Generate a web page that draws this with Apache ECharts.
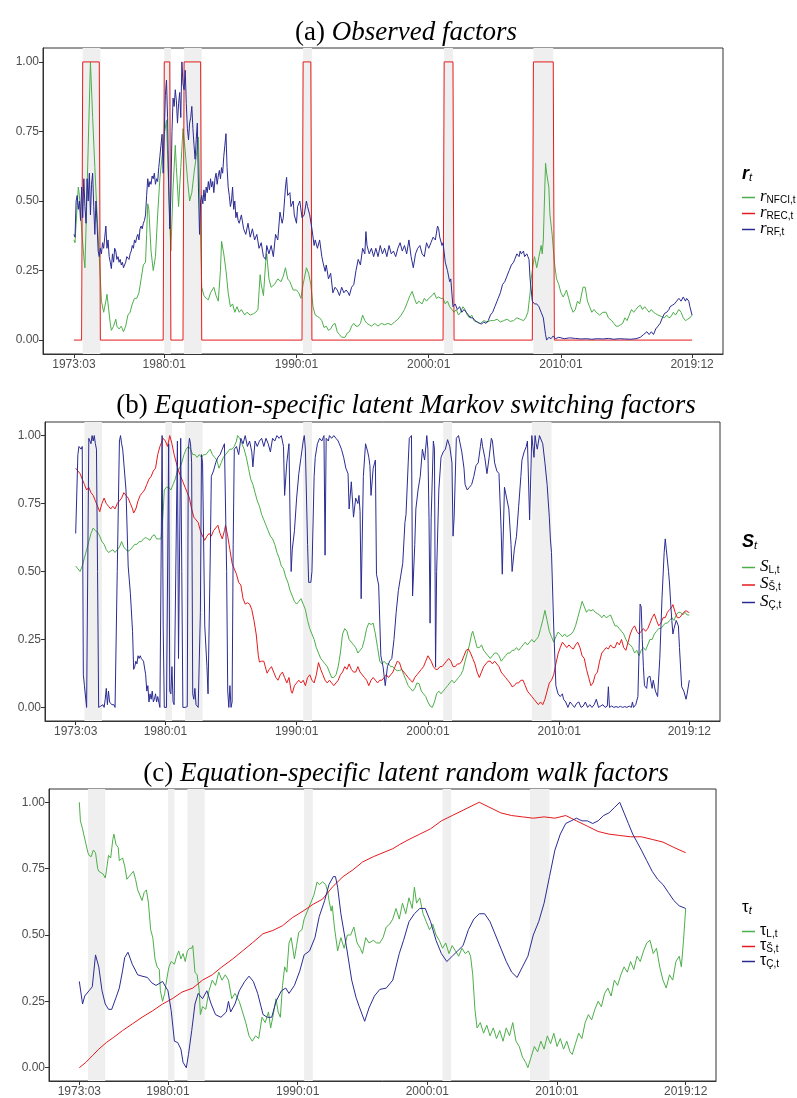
<!DOCTYPE html>
<html>
<head>
<meta charset="utf-8">
<script src="https://cdn.jsdelivr.net/npm/echarts@6/dist/echarts.min.js"></script>
<style>
html, body { margin: 0; padding: 0; background: #fff; }
#container { width: 797px; height: 1098px; }
</style>
</head>
<body>
<div id="container"></div>
<script>
// months counted from 1973:03 (= 0) to 2019:12 (= 561)
var tickMonths = [0, 82, 202, 322, 442, 561];
var tickLabels = ['1973:03', '1980:01', '1990:01', '2000:01', '2010:01', '2019:12'];
var yTicks = [0, 0.25, 0.5, 0.75, 1];
// NBER recessions, [start, end] in months
var recessions = [[8, 24], [82, 88], [100, 116], [208, 216], [336, 344], [417, 435]];

// (a) observed factors, [month, value]
var rNfci = [[0,0.36],[1,0.35],[2,0.42],[4,0.55],[5,0.52],[7,0.40],[9,0.30],[10,0.26],[11,0.40],[13,0.70],[15,1.00],[17,0.80],[19,0.62],[21,0.45],[23,0.30],[25,0.14],[27,0.10],[29,0.14],[30,0.165],[31,0.16],[33,0.06],[34,0.035],[36,0.05],[38,0.075],[39,0.05],[41,0.04],[43,0.05],[45,0.03],[47,0.05],[49,0.09],[51,0.10],[53,0.13],[55,0.15],[57,0.15],[59,0.17],[61,0.22],[63,0.27],[65,0.28],[66,0.38],[67,0.49],[68,0.47],[70,0.32],[72,0.25],[74,0.30],[76,0.45],[78,0.58],[80,0.66],[82,0.74],[84,0.79],[86,0.55],[88,0.32],[90,0.55],[92,0.70],[93,0.62],[95,0.48],[97,0.62],[99,0.76],[101,0.68],[103,0.58],[105,0.50],[107,0.53],[109,0.60],[111,0.66],[113,0.73],[114,0.55],[116,0.19],[118,0.16],[120,0.15],[122,0.145],[124,0.17],[127,0.19],[129,0.16],[131,0.14],[133,0.25],[134,0.355],[136,0.31],[138,0.25],[140,0.17],[142,0.12],[144,0.13],[146,0.10],[148,0.12],[150,0.10],[152,0.11],[155,0.09],[157,0.10],[160,0.09],[163,0.095],[165,0.10],[167,0.11],[169,0.235],[170,0.20],[172,0.16],[174,0.28],[175,0.31],[177,0.22],[179,0.19],[182,0.20],[185,0.22],[188,0.21],[190,0.23],[192,0.26],[194,0.22],[196,0.21],[199,0.18],[202,0.18],[204,0.17],[206,0.15],[208,0.20],[211,0.26],[213,0.24],[215,0.20],[217,0.12],[219,0.09],[221,0.085],[223,0.08],[225,0.07],[227,0.045],[229,0.05],[231,0.035],[233,0.04],[235,0.055],[237,0.06],[239,0.03],[241,0.02],[243,0.01],[244,0.004],[246,0.01],[248,0.025],[250,0.03],[252,0.05],[254,0.06],[256,0.05],[258,0.05],[260,0.06],[262,0.09],[264,0.07],[266,0.06],[268,0.055],[270,0.05],[273,0.06],[276,0.05],[279,0.06],[282,0.055],[285,0.06],[288,0.055],[291,0.065],[294,0.075],[297,0.09],[300,0.11],[303,0.14],[305,0.16],[307,0.175],[309,0.15],[311,0.13],[313,0.14],[316,0.13],[318,0.15],[320,0.14],[322,0.15],[325,0.16],[327,0.17],[329,0.15],[331,0.155],[333,0.15],[335,0.15],[337,0.13],[339,0.14],[341,0.12],[343,0.11],[345,0.10],[347,0.11],[349,0.09],[351,0.10],[353,0.12],[355,0.11],[357,0.09],[359,0.08],[361,0.09],[363,0.07],[366,0.065],[369,0.06],[372,0.07],[375,0.065],[378,0.07],[381,0.07],[384,0.075],[387,0.065],[390,0.07],[393,0.075],[396,0.067],[399,0.07],[402,0.08],[405,0.075],[408,0.07],[410,0.08],[412,0.10],[414,0.17],[415,0.22],[417,0.28],[418,0.30],[420,0.26],[422,0.30],[424,0.34],[425,0.31],[426,0.36],[427,0.50],[428,0.636],[429,0.60],[431,0.55],[432,0.45],[434,0.38],[436,0.28],[438,0.22],[440,0.20],[442,0.17],[444,0.155],[446,0.17],[447,0.18],[449,0.15],[451,0.12],[453,0.10],[455,0.11],[457,0.14],[459,0.13],[461,0.17],[462,0.19],[464,0.19],[466,0.14],[468,0.12],[470,0.10],[472,0.11],[474,0.10],[477,0.09],[480,0.10],[483,0.10],[485,0.08],[488,0.07],[490,0.06],[492,0.05],[494,0.05],[496,0.055],[498,0.06],[500,0.08],[502,0.07],[504,0.09],[506,0.11],[508,0.10],[510,0.11],[512,0.12],[514,0.125],[516,0.11],[518,0.12],[520,0.11],[522,0.10],[524,0.11],[526,0.10],[528,0.095],[530,0.09],[533,0.085],[536,0.08],[538,0.09],[540,0.08],[542,0.085],[544,0.10],[546,0.09],[549,0.11],[551,0.10],[553,0.08],[555,0.07],[557,0.075],[559,0.08],[561,0.09]];
var rRec = [[0,0],[7,0],[8,1],[23,1],[24,0],[81,0],[82,1],[87,1],[88,0],[99,0],[100,1],[115,1],[116,0],[207,0],[208,1],[215,1],[216,0],[335,0],[336,1],[344,1],[345,0],[416,0],[417,1],[435,1],[436,0],[561,0]];
var rRf = [[0,0.38],[1,0.37],[2,0.50],[3,0.52],[4,0.47],[5,0.50],[6,0.43],[7,0.55],[8,0.44],[9,0.58],[10,0.48],[11,0.42],[12,0.58],[13,0.50],[14,0.60],[15,0.45],[16,0.56],[17,0.60],[18,0.48],[19,0.38],[20,0.50],[21,0.42],[22,0.32],[23,0.30],[24,0.33],[25,0.31],[26,0.35],[27,0.33],[28,0.37],[29,0.41],[30,0.33],[31,0.36],[32,0.30],[33,0.28],[34,0.257],[35,0.31],[36,0.28],[37,0.33],[38,0.32],[39,0.29],[40,0.30],[41,0.28],[42,0.29],[43,0.27],[44,0.28],[45,0.26],[46,0.26],[47,0.28],[48,0.30],[49,0.30],[50,0.29],[51,0.31],[52,0.32],[53,0.34],[54,0.33],[55,0.36],[56,0.35],[57,0.37],[58,0.38],[59,0.36],[60,0.40],[61,0.41],[62,0.40],[63,0.42],[64,0.43],[65,0.45],[66,0.52],[67,0.58],[68,0.55],[69,0.57],[70,0.56],[71,0.59],[72,0.58],[73,0.60],[74,0.56],[75,0.58],[76,0.57],[77,0.62],[78,0.66],[79,0.70],[80,0.74],[81,0.60],[82,0.75],[83,0.88],[84,0.935],[85,0.80],[86,0.55],[87,0.40],[88,0.52],[89,0.75],[90,0.87],[91,0.84],[92,0.90],[93,0.86],[94,0.78],[95,0.85],[96,0.89],[97,0.80],[98,1.0],[99,0.92],[100,0.90],[101,0.97],[102,0.85],[103,0.76],[104,0.72],[105,0.78],[106,0.80],[107,0.84],[108,0.76],[109,0.70],[110,0.65],[111,0.72],[112,0.78],[113,0.55],[114,0.38],[115,0.50],[116,0.52],[117,0.49],[118,0.54],[119,0.50],[120,0.55],[121,0.53],[122,0.57],[123,0.54],[124,0.58],[125,0.55],[126,0.57],[127,0.53],[128,0.58],[129,0.60],[130,0.56],[131,0.59],[132,0.61],[133,0.58],[134,0.62],[135,0.60],[136,0.66],[137,0.70],[138,0.742],[139,0.62],[140,0.55],[141,0.52],[142,0.48],[143,0.50],[144,0.55],[145,0.47],[146,0.50],[147,0.44],[148,0.46],[149,0.43],[150,0.42],[152,0.45],[154,0.40],[156,0.38],[158,0.42],[160,0.37],[162,0.40],[164,0.36],[166,0.38],[168,0.33],[170,0.35],[172,0.30],[174,0.29],[175,0.34],[177,0.31],[179,0.34],[181,0.30],[183,0.38],[185,0.36],[187,0.46],[189,0.42],[190,0.44],[192,0.55],[193,0.585],[194,0.52],[196,0.53],[197,0.48],[199,0.50],[200,0.45],[202,0.42],[203,0.48],[205,0.50],[207,0.44],[209,0.45],[211,0.50],[212,0.48],[214,0.45],[216,0.40],[218,0.34],[219,0.36],[221,0.33],[223,0.36],[225,0.30],[226,0.28],[228,0.247],[229,0.27],[231,0.22],[233,0.24],[235,0.17],[237,0.19],[239,0.18],[241,0.16],[243,0.19],[245,0.17],[247,0.18],[249,0.17],[250,0.16],[252,0.19],[254,0.20],[256,0.25],[258,0.29],[260,0.27],[262,0.33],[264,0.31],[265,0.39],[266,0.34],[268,0.31],[270,0.33],[272,0.30],[274,0.33],[276,0.30],[278,0.34],[280,0.31],[282,0.33],[284,0.30],[286,0.34],[288,0.31],[290,0.32],[292,0.30],[294,0.33],[296,0.35],[298,0.32],[300,0.34],[302,0.31],[304,0.36],[306,0.30],[308,0.26],[310,0.31],[312,0.33],[314,0.34],[316,0.31],[318,0.30],[320,0.35],[322,0.33],[324,0.35],[326,0.37],[328,0.36],[330,0.41],[331,0.40],[332,0.37],[334,0.34],[335,0.35],[337,0.28],[339,0.25],[341,0.21],[342,0.22],[344,0.12],[346,0.13],[348,0.11],[350,0.12],[352,0.10],[354,0.11],[356,0.10],[358,0.09],[360,0.08],[362,0.08],[364,0.07],[366,0.065],[368,0.06],[370,0.058],[372,0.065],[374,0.06],[376,0.07],[378,0.09],[380,0.10],[382,0.12],[384,0.14],[385,0.15],[387,0.17],[389,0.20],[391,0.21],[393,0.23],[395,0.25],[397,0.27],[399,0.28],[400,0.29],[402,0.31],[404,0.30],[405,0.32],[406,0.31],[408,0.32],[409,0.30],[411,0.31],[412,0.30],[413,0.29],[414,0.22],[415,0.18],[416,0.14],[418,0.13],[420,0.13],[422,0.12],[424,0.10],[426,0.08],[428,0.02],[429,0.0],[431,0.01],[433,0.005],[435,0.015],[437,0.005],[440,0.01],[445,0.005],[450,0.008],[455,0.006],[460,0.004],[465,0.005],[470,0.003],[475,0.005],[480,0.004],[485,0.006],[490,0.003],[495,0.005],[500,0.004],[505,0.003],[510,0.005],[514,0.01],[517,0.02],[520,0.03],[522,0.02],[524,0.03],[526,0.02],[528,0.04],[530,0.05],[532,0.06],[534,0.08],[536,0.096],[538,0.10],[540,0.11],[541,0.12],[543,0.125],[545,0.13],[547,0.14],[549,0.15],[551,0.14],[553,0.155],[555,0.14],[556,0.15],[558,0.14],[559,0.12],[561,0.09]];

// (b) latent Markov switching factors
var sL = [[0,0.52],[2,0.51],[4,0.50],[6,0.52],[8,0.55],[10,0.58],[12,0.61],[14,0.64],[16,0.66],[18,0.65],[20,0.645],[22,0.63],[24,0.61],[26,0.60],[28,0.58],[30,0.57],[32,0.575],[34,0.58],[36,0.57],[38,0.58],[40,0.59],[42,0.61],[44,0.59],[46,0.58],[48,0.575],[50,0.58],[52,0.59],[54,0.60],[56,0.60],[58,0.61],[60,0.61],[62,0.62],[64,0.625],[66,0.62],[68,0.615],[70,0.63],[72,0.635],[74,0.62],[76,0.62],[78,0.62],[79,0.66],[80,0.72],[81,0.80],[83,0.81],[85,0.81],[87,0.80],[89,0.82],[91,0.84],[93,0.87],[95,0.88],[97,0.90],[99,0.93],[101,0.95],[103,0.96],[105,0.95],[107,0.93],[109,0.93],[111,0.92],[113,0.93],[115,0.92],[117,0.93],[119,0.93],[121,0.94],[123,0.95],[125,0.93],[127,0.92],[129,0.91],[131,0.88],[133,0.90],[135,0.92],[137,0.93],[139,0.94],[141,0.95],[143,0.95],[145,0.96],[147,0.98],[148,1.0],[150,0.99],[152,0.97],[154,0.95],[156,0.92],[158,0.88],[160,0.84],[162,0.82],[164,0.79],[166,0.76],[168,0.74],[170,0.71],[172,0.69],[174,0.67],[176,0.65],[178,0.63],[180,0.62],[182,0.60],[184,0.57],[186,0.55],[188,0.52],[190,0.51],[192,0.48],[194,0.46],[196,0.43],[198,0.41],[200,0.39],[202,0.38],[204,0.39],[206,0.40],[208,0.38],[210,0.36],[212,0.32],[214,0.29],[216,0.27],[218,0.25],[220,0.22],[222,0.20],[224,0.18],[226,0.17],[228,0.16],[230,0.15],[232,0.13],[234,0.11],[236,0.11],[238,0.12],[240,0.15],[242,0.20],[244,0.27],[246,0.29],[248,0.28],[250,0.25],[252,0.24],[254,0.23],[256,0.22],[258,0.20],[260,0.21],[262,0.22],[264,0.25],[266,0.29],[268,0.31],[270,0.305],[272,0.31],[274,0.27],[276,0.22],[278,0.17],[280,0.16],[282,0.17],[284,0.16],[286,0.16],[288,0.15],[290,0.15],[292,0.14],[294,0.135],[296,0.136],[298,0.14],[300,0.12],[302,0.10],[304,0.08],[306,0.07],[308,0.06],[310,0.07],[312,0.09],[314,0.087],[316,0.06],[318,0.05],[320,0.04],[322,0.02],[324,0.005],[326,0.0],[328,0.02],[330,0.05],[332,0.06],[334,0.05],[336,0.06],[338,0.07],[340,0.08],[342,0.09],[344,0.10],[346,0.09],[348,0.10],[350,0.11],[352,0.12],[354,0.136],[356,0.17],[358,0.20],[360,0.23],[362,0.27],[363,0.28],[365,0.25],[367,0.22],[369,0.22],[371,0.23],[373,0.21],[375,0.20],[377,0.19],[379,0.18],[381,0.19],[383,0.20],[385,0.20],[387,0.19],[389,0.17],[391,0.18],[393,0.19],[395,0.20],[397,0.20],[399,0.21],[401,0.21],[403,0.22],[405,0.21],[407,0.22],[409,0.23],[411,0.24],[413,0.23],[415,0.24],[417,0.25],[419,0.24],[421,0.25],[423,0.26],[425,0.29],[427,0.32],[429,0.357],[431,0.32],[433,0.28],[435,0.26],[437,0.24],[439,0.26],[441,0.277],[443,0.27],[445,0.26],[447,0.27],[449,0.26],[451,0.265],[453,0.27],[455,0.28],[457,0.30],[459,0.33],[461,0.36],[463,0.39],[465,0.37],[467,0.35],[469,0.36],[471,0.355],[473,0.36],[475,0.35],[477,0.345],[479,0.34],[481,0.33],[483,0.34],[485,0.33],[487,0.335],[489,0.34],[491,0.32],[493,0.30],[495,0.30],[497,0.29],[499,0.28],[501,0.27],[503,0.25],[505,0.235],[507,0.23],[509,0.22],[511,0.20],[513,0.21],[515,0.19],[517,0.21],[519,0.22],[521,0.21],[523,0.23],[525,0.25],[527,0.25],[529,0.27],[531,0.28],[533,0.29],[535,0.29],[537,0.30],[539,0.31],[541,0.31],[543,0.32],[545,0.33],[547,0.32],[549,0.34],[551,0.35],[553,0.35],[555,0.34],[557,0.35],[559,0.34],[561,0.34]];
var sS = [[0,0.88],[2,0.87],[4,0.86],[6,0.84],[8,0.82],[10,0.80],[12,0.81],[14,0.79],[16,0.78],[18,0.76],[20,0.74],[22,0.72],[24,0.75],[26,0.77],[28,0.75],[30,0.74],[32,0.73],[34,0.74],[36,0.73],[38,0.75],[40,0.76],[42,0.77],[44,0.79],[46,0.78],[48,0.77],[50,0.75],[52,0.73],[53,0.715],[55,0.73],[57,0.76],[59,0.78],[61,0.79],[63,0.80],[65,0.82],[67,0.84],[69,0.85],[71,0.87],[73,0.88],[75,0.93],[77,0.96],[79,0.98],[80,0.99],[82,0.98],[84,0.96],[86,1.0],[88,0.97],[90,0.93],[92,0.90],[94,0.87],[96,0.85],[98,0.83],[100,0.81],[102,0.79],[104,0.77],[106,0.73],[108,0.70],[110,0.69],[112,0.68],[114,0.65],[116,0.63],[118,0.615],[120,0.63],[122,0.64],[124,0.63],[126,0.65],[128,0.66],[130,0.67],[132,0.64],[134,0.62],[136,0.65],[137,0.67],[139,0.63],[141,0.58],[143,0.53],[145,0.51],[147,0.49],[149,0.46],[151,0.45],[153,0.40],[155,0.38],[157,0.385],[159,0.38],[161,0.36],[163,0.32],[165,0.27],[167,0.19],[168,0.167],[170,0.17],[172,0.17],[174,0.14],[175,0.126],[177,0.14],[179,0.15],[181,0.13],[183,0.11],[185,0.10],[187,0.12],[189,0.13],[191,0.11],[193,0.09],[195,0.11],[197,0.06],[198,0.052],[200,0.08],[202,0.09],[204,0.10],[206,0.09],[208,0.10],[210,0.08],[212,0.11],[214,0.12],[216,0.10],[218,0.09],[220,0.12],[222,0.165],[224,0.14],[226,0.12],[228,0.10],[230,0.09],[232,0.10],[234,0.09],[236,0.08],[238,0.09],[240,0.10],[242,0.12],[244,0.13],[246,0.15],[248,0.14],[250,0.16],[252,0.14],[254,0.13],[256,0.13],[258,0.15],[260,0.13],[262,0.12],[264,0.11],[266,0.10],[268,0.08],[270,0.10],[272,0.11],[274,0.10],[276,0.09],[278,0.10],[280,0.10],[282,0.11],[284,0.12],[286,0.11],[288,0.12],[290,0.13],[292,0.15],[294,0.17],[296,0.165],[298,0.14],[300,0.13],[302,0.12],[304,0.11],[306,0.10],[308,0.093],[310,0.11],[312,0.12],[314,0.13],[316,0.14],[318,0.15],[320,0.17],[322,0.19],[323,0.197],[325,0.17],[327,0.15],[329,0.14],[331,0.14],[333,0.15],[335,0.15],[337,0.16],[339,0.17],[341,0.18],[343,0.17],[345,0.15],[347,0.15],[349,0.16],[351,0.16],[353,0.17],[355,0.19],[357,0.21],[359,0.215],[361,0.20],[363,0.18],[365,0.16],[367,0.13],[369,0.11],[371,0.13],[373,0.15],[375,0.16],[377,0.17],[379,0.17],[381,0.16],[383,0.17],[385,0.16],[387,0.15],[389,0.13],[391,0.12],[393,0.11],[395,0.10],[397,0.09],[399,0.076],[401,0.08],[403,0.09],[405,0.09],[407,0.10],[409,0.10],[411,0.08],[413,0.06],[415,0.05],[417,0.04],[419,0.03],[421,0.02],[423,0.01],[425,0.02],[427,0.01],[429,0.03],[431,0.06],[433,0.09],[435,0.10],[437,0.12],[439,0.16],[441,0.197],[443,0.22],[445,0.24],[447,0.23],[449,0.22],[451,0.23],[453,0.22],[455,0.215],[457,0.23],[459,0.24],[461,0.22],[463,0.19],[465,0.18],[467,0.14],[469,0.11],[471,0.08],[473,0.09],[475,0.12],[477,0.13],[479,0.17],[481,0.20],[483,0.21],[485,0.22],[487,0.215],[489,0.23],[491,0.22],[493,0.22],[495,0.24],[497,0.23],[499,0.25],[501,0.22],[503,0.21],[505,0.24],[507,0.27],[509,0.29],[511,0.30],[513,0.28],[515,0.27],[517,0.28],[519,0.29],[521,0.28],[523,0.29],[525,0.31],[527,0.33],[529,0.344],[531,0.32],[533,0.30],[535,0.31],[537,0.33],[539,0.33],[541,0.35],[543,0.36],[545,0.37],[546,0.378],[548,0.35],[550,0.33],[552,0.33],[554,0.34],[556,0.35],[558,0.356],[560,0.35],[561,0.35]];
var sC = [[0,0.64],[2,0.93],[3,0.96],[5,0.95],[6,0.96],[7,0.12],[8,0.08],[9,0.08],[10,0.0],[12,0.99],[14,0.97],[15,1.0],[16,0.98],[17,1.0],[18,0.97],[19,0.95],[20,0.5],[21,0.0],[23,0.005],[25,0.01],[26,0.0],[27,0.03],[28,0.07],[29,0.01],[30,0.06],[31,0.02],[33,0.01],[35,0.01],[36,0.0],[38,0.5],[40,0.98],[41,1.0],[42,0.97],[43,0.95],[44,0.95],[46,0.80],[48,0.52],[50,0.42],[52,0.28],[53,0.14],[54,0.15],[55,0.17],[56,0.16],[57,0.19],[58,0.18],[59,0.19],[60,0.18],[62,0.17],[64,0.12],[65,0.06],[66,0.08],[67,0.02],[68,0.05],[69,0.03],[70,0.06],[71,0.02],[72,0.03],[73,0.05],[74,0.02],[75,0.04],[76,0.02],[77,0.0],[78,0.0],[79,1.0],[80,0.3],[81,0.0],[83,0.0],[84,0.005],[85,0.97],[86,0.06],[87,0.05],[88,0.15],[89,0.02],[90,0.01],[91,0.01],[93,0.98],[94,0.18],[96,0.99],[97,0.5],[98,0.0],[100,0.0],[102,0.003],[103,0.95],[104,0.99],[105,0.97],[106,0.9],[107,0.05],[108,0.03],[109,0.07],[110,0.01],[112,0.0],[114,0.35],[115,0.93],[116,0.9],[118,0.3],[120,0.15],[121,0.05],[123,0.55],[124,0.85],[126,0.87],[128,0.90],[130,0.92],[132,0.93],[134,0.95],[136,0.97],[137,0.97],[138,0.5],[139,0.06],[140,0.0],[141,0.08],[142,0.0],[143,0.02],[144,0.6],[145,0.95],[147,0.96],[149,0.93],[151,0.99],[153,0.97],[155,1.0],[157,0.96],[159,0.98],[161,0.94],[162,0.885],[164,0.98],[166,0.96],[168,0.98],[170,0.99],[172,0.96],[174,0.99],[176,0.97],[178,0.94],[180,0.99],[182,0.98],[184,1.0],[186,0.99],[188,1.0],[190,0.96],[191,0.78],[193,0.9],[195,0.97],[196,0.7],[197,0.5],[198,0.58],[200,0.65],[202,0.77],[204,0.86],[206,0.92],[208,0.98],[209,1.0],[210,0.95],[212,0.6],[213,0.46],[215,0.46],[216,0.5],[218,0.85],[219,0.92],[221,0.97],[223,0.99],[225,0.98],[227,1.0],[228,0.56],[229,0.99],[231,0.98],[232,1.0],[234,0.99],[236,1.0],[238,0.99],[240,0.98],[241,0.97],[243,0.95],[245,0.92],[247,0.88],[249,0.86],[250,0.73],[252,0.83],[254,0.70],[256,0.77],[258,0.75],[259,0.78],[260,0.72],[261,0.40],[263,0.85],[265,0.97],[267,0.94],[268,0.92],[269,0.89],[270,0.78],[272,0.88],[274,0.91],[275,0.49],[277,0.45],[279,0.19],[281,0.15],[283,0.08],[285,0.15],[287,0.17],[289,0.18],[291,0.25],[293,0.35],[295,0.43],[297,0.48],[299,0.53],[301,0.68],[302,0.71],[304,0.9],[305,0.99],[307,1.0],[308,0.41],[310,0.6],[311,0.73],[313,0.80],[315,0.85],[317,0.95],[319,0.91],[321,1.0],[322,0.95],[323,0.70],[324,0.31],[325,0.7],[327,0.98],[328,0.95],[329,0.148],[330,0.5],[332,0.8],[334,0.92],[336,0.94],[338,0.95],[340,0.985],[342,0.96],[344,0.9],[345,0.63],[346,0.7],[348,0.99],[350,1.0],[351,1.0],[353,0.94],[355,0.88],[356,0.82],[358,0.80],[360,0.81],[362,0.82],[364,0.85],[366,0.89],[368,0.90],[370,0.96],[371,0.99],[372,0.96],[374,0.92],[376,0.86],[378,0.92],[380,0.99],[381,0.98],[383,0.90],[385,0.87],[387,0.86],[389,0.65],[390,0.49],[392,0.81],[394,0.77],[396,0.73],[398,0.6],[399,0.5],[401,0.58],[403,0.63],[405,0.74],[407,0.85],[408,0.91],[410,0.94],[412,0.96],[413,0.98],[415,0.69],[417,1.0],[418,0.96],[419,0.92],[420,1.0],[421,0.97],[422,0.95],[424,1.0],[426,0.98],[427,0.97],[429,0.90],[431,0.82],[433,0.70],[434,0.62],[435,0.57],[437,0.30],[439,0.08],[441,0.05],[443,0.04],[445,0.05],[446,0.03],[448,0.02],[450,0.0],[452,0.02],[454,0.01],[456,0.0],[458,0.015],[460,0.02],[462,0.0],[464,0.005],[466,0.02],[468,0.0],[470,0.01],[472,0.0],[474,0.01],[476,0.03],[478,0.0],[480,0.005],[482,0.01],[484,0.0],[486,0.005],[487,0.076],[488,0.0],[490,0.005],[492,0.0],[494,0.003],[496,0.0],[498,0.004],[500,0.0],[502,0.003],[504,0.0],[506,0.005],[508,0.0],[509,0.02],[510,0.0],[512,0.01],[514,0.04],[515,0.2],[516,0.38],[517,0.37],[518,0.25],[519,0.15],[520,0.08],[522,0.07],[523,0.11],[525,0.115],[527,0.07],[528,0.10],[530,0.06],[532,0.04],[534,0.18],[536,0.4],[538,0.57],[539,0.62],[540,0.58],[542,0.50],[543,0.45],[544,0.38],[545,0.32],[546,0.27],[547,0.29],[549,0.32],[551,0.30],[552,0.22],[554,0.076],[556,0.06],[557,0.06],[558,0.03],[559,0.05],[561,0.10]];

// (c) latent random walk factors
var tauL = [[0,1.0],[1,0.93],[3,0.90],[4,0.895],[6,0.845],[8,0.81],[9,0.80],[11,0.795],[13,0.82],[15,0.81],[17,0.75],[18,0.74],[20,0.735],[22,0.73],[24,0.715],[25,0.74],[27,0.80],[29,0.79],[31,0.86],[32,0.88],[34,0.84],[36,0.83],[37,0.78],[40,0.79],[42,0.76],[44,0.71],[46,0.72],[48,0.73],[50,0.74],[52,0.71],[54,0.67],[56,0.65],[58,0.63],[60,0.66],[62,0.67],[64,0.62],[66,0.52],[68,0.49],[70,0.41],[72,0.38],[74,0.37],[75,0.29],[77,0.25],[79,0.28],[80,0.31],[82,0.36],[83,0.38],[85,0.40],[86,0.40],[88,0.39],[90,0.42],[92,0.44],[94,0.41],[96,0.43],[98,0.40],[100,0.44],[102,0.45],[104,0.45],[105,0.46],[107,0.36],[109,0.35],[111,0.29],[112,0.20],[114,0.23],[117,0.22],[120,0.29],[123,0.33],[126,0.31],[129,0.36],[132,0.33],[135,0.35],[138,0.33],[141,0.26],[144,0.28],[148,0.25],[151,0.21],[154,0.17],[157,0.12],[160,0.10],[163,0.12],[166,0.11],[169,0.19],[172,0.17],[175,0.21],[177,0.15],[179,0.19],[182,0.26],[184,0.21],[186,0.19],[188,0.31],[190,0.38],[192,0.36],[194,0.47],[196,0.49],[199,0.41],[201,0.46],[203,0.51],[206,0.52],[208,0.56],[211,0.59],[214,0.62],[217,0.65],[220,0.70],[222,0.69],[225,0.70],[228,0.69],[230,0.66],[231,0.63],[233,0.59],[234,0.61],[236,0.53],[239,0.44],[242,0.49],[245,0.45],[248,0.50],[251,0.50],[254,0.53],[257,0.47],[260,0.45],[262,0.43],[265,0.49],[268,0.47],[272,0.48],[275,0.47],[278,0.47],[281,0.49],[284,0.53],[287,0.54],[290,0.56],[293,0.60],[296,0.56],[299,0.62],[302,0.58],[305,0.64],[308,0.60],[310,0.68],[312,0.62],[315,0.64],[318,0.58],[321,0.55],[324,0.52],[327,0.54],[330,0.50],[333,0.48],[336,0.45],[339,0.47],[342,0.43],[345,0.46],[348,0.44],[351,0.42],[354,0.45],[357,0.43],[360,0.44],[362,0.42],[364,0.35],[366,0.22],[368,0.15],[371,0.17],[374,0.13],[377,0.16],[380,0.12],[383,0.15],[386,0.11],[389,0.14],[392,0.10],[395,0.15],[398,0.12],[401,0.17],[404,0.10],[407,0.08],[410,0.04],[413,0.02],[415,0.0],[418,0.04],[421,0.08],[424,0.06],[427,0.10],[430,0.07],[433,0.12],[436,0.09],[439,0.13],[442,0.08],[445,0.11],[448,0.07],[451,0.10],[454,0.06],[456,0.05],[459,0.09],[462,0.13],[465,0.11],[468,0.17],[471,0.20],[474,0.18],[477,0.22],[480,0.25],[483,0.23],[486,0.28],[489,0.30],[492,0.27],[495,0.33],[498,0.31],[501,0.35],[504,0.38],[507,0.36],[510,0.40],[513,0.37],[516,0.42],[519,0.40],[522,0.44],[525,0.47],[528,0.48],[531,0.43],[534,0.45],[537,0.38],[540,0.33],[543,0.30],[546,0.35],[549,0.33],[552,0.40],[555,0.42],[557,0.38],[559,0.48],[561,0.60]];
var tauS = [[0,0.0],[6,0.02],[12,0.045],[18,0.07],[25,0.095],[32,0.115],[40,0.14],[49,0.165],[58,0.19],[68,0.215],[77,0.24],[86,0.26],[95,0.285],[105,0.30],[114,0.33],[123,0.35],[132,0.38],[142,0.41],[151,0.44],[160,0.47],[170,0.505],[179,0.517],[188,0.535],[197,0.565],[207,0.59],[216,0.615],[225,0.635],[234,0.68],[244,0.72],[253,0.745],[262,0.775],[272,0.795],[281,0.81],[290,0.825],[296,0.84],[305,0.86],[315,0.88],[325,0.90],[335,0.93],[345,0.95],[355,0.97],[365,0.99],[370,1.0],[380,0.98],[390,0.96],[400,0.95],[410,0.945],[420,0.94],[430,0.945],[440,0.94],[450,0.95],[455,0.94],[460,0.93],[470,0.91],[480,0.89],[490,0.88],[500,0.875],[510,0.87],[520,0.87],[530,0.86],[540,0.85],[550,0.83],[561,0.81]];
var tauC = [[0,0.325],[3,0.24],[5,0.27],[9,0.29],[12,0.305],[15,0.425],[18,0.38],[21,0.29],[24,0.24],[27,0.22],[30,0.22],[34,0.265],[37,0.30],[40,0.365],[42,0.415],[45,0.435],[49,0.39],[54,0.35],[58,0.345],[63,0.34],[67,0.32],[71,0.31],[77,0.325],[82,0.29],[85,0.215],[88,0.10],[91,0.095],[94,0.07],[96,0.02],[99,0.0],[101,0.05],[104,0.14],[107,0.24],[110,0.28],[114,0.26],[118,0.29],[122,0.24],[126,0.20],[131,0.19],[136,0.21],[138,0.25],[140,0.21],[144,0.24],[148,0.29],[153,0.325],[157,0.345],[161,0.325],[165,0.28],[170,0.20],[174,0.19],[178,0.19],[182,0.25],[187,0.29],[191,0.30],[194,0.28],[199,0.31],[204,0.365],[208,0.425],[213,0.44],[218,0.49],[222,0.57],[227,0.63],[231,0.69],[235,0.72],[237,0.72],[239,0.68],[242,0.58],[247,0.46],[252,0.33],[256,0.265],[259,0.23],[264,0.175],[268,0.225],[273,0.27],[278,0.295],[284,0.30],[290,0.33],[296,0.43],[300,0.48],[305,0.55],[310,0.58],[315,0.60],[320,0.60],[325,0.55],[330,0.48],[335,0.43],[340,0.40],[345,0.42],[350,0.44],[355,0.46],[360,0.52],[365,0.56],[370,0.58],[375,0.58],[380,0.55],[385,0.50],[390,0.45],[395,0.40],[400,0.36],[405,0.34],[410,0.38],[415,0.42],[420,0.50],[425,0.55],[430,0.62],[435,0.72],[440,0.82],[445,0.88],[450,0.92],[455,0.93],[460,0.94],[465,0.93],[470,0.93],[475,0.92],[480,0.93],[485,0.95],[490,0.96],[495,0.98],[500,1.0],[504,0.96],[508,0.92],[512,0.88],[516,0.85],[520,0.82],[525,0.78],[530,0.74],[535,0.71],[540,0.69],[545,0.66],[550,0.63],[555,0.61],[561,0.60]];

var GREEN = '#4DAF4A', RED = '#E41A1C', BLUE = '#2B2B93';
var serif = 'Liberation Serif', sans = 'Liberation Sans';

var dom = document.getElementById('container');
var myChart = echarts.init(dom, null, {renderer: 'canvas'});

function xAxisFor(i) {
    return {
        type: 'value', gridIndex: i, min: -28.05, max: 589.05,
        axisLine: {show: true, onZero: false, lineStyle: {color: '#333', width: 1}},
        axisTick: {show: true, customValues: tickMonths, length: 4, lineStyle: {color: '#333'}},
        axisLabel: {
            customValues: tickMonths, color: '#4d4d4d', fontSize: 12, fontFamily: sans, margin: 5,
            formatter: function (v) { return tickLabels[tickMonths.indexOf(v)]; }
        },
        splitLine: {show: false}
    };
}
function yAxisFor(i) {
    return {
        type: 'value', gridIndex: i, min: -0.05, max: 1.05,
        axisLine: {show: true, onZero: false, lineStyle: {color: '#333', width: 1}},
        axisTick: {show: true, customValues: yTicks, length: 4, lineStyle: {color: '#333'}},
        axisLabel: {
            customValues: yTicks, color: '#4d4d4d', fontSize: 12, fontFamily: sans, margin: 4,
            formatter: function (v) { return v.toFixed(2); }
        },
        splitLine: {show: false}
    };
}
function bands(i) {
    return {
        type: 'line', xAxisIndex: i, yAxisIndex: i, data: [], silent: true,
        markArea: {
            silent: true, itemStyle: {color: '#EFEFEF'},
            data: recessions.map(function (r) { return [{xAxis: r[0]}, {xAxis: r[1]}]; })
        }
    };
}
function line(name, i, data, color) {
    return {
        name: name, type: 'line', xAxisIndex: i, yAxisIndex: i, data: data,
        showSymbol: false, symbol: 'none', color: color,
        lineStyle: {width: 1, color: color}, z: 3
    };
}

var legendText = {
    rNfci: '{i|r}{s|NFCI,t}', rRec: '{i|r}{s|REC,t}', rRf: '{i|r}{s|RF,t}',
    sL: '{i|S}{s|L,t}', sS: '{i|S}{s|Š,t}', sC: '{i|S}{s|Ç,t}',
    tL: '{g|τ}{s|L,t}', tS: '{g|τ}{s|Š,t}', tC: '{g|τ}{s|Ç,t}'
};
var legendRich = {
    i: {fontFamily: serif, fontStyle: 'italic', fontSize: 17, color: '#000', verticalAlign: 'bottom', lineHeight: 15},
    g: {fontFamily: sans, fontSize: 16, color: '#000', verticalAlign: 'bottom', lineHeight: 15},
    s: {fontFamily: sans, fontSize: 10, color: '#000', verticalAlign: 'bottom', lineHeight: 7}
};
function legendFor(names, top, gap) {
    return {
        data: names, orient: 'vertical', left: 737, top: top, itemGap: gap,
        itemWidth: 13, itemHeight: 1.5, icon: 'rect', selectedMode: false,
        formatter: function (n) { return legendText[n]; },
        textStyle: {rich: legendRich}
    };
}
var titleRich = {
    n: {fontFamily: serif, fontSize: 27, fontWeight: 'normal', color: '#000', lineHeight: 30},
    it: {fontFamily: serif, fontSize: 27, fontWeight: 'normal', fontStyle: 'italic', color: '#000', lineHeight: 30}
};
var legTitleRich = {
    b: {fontFamily: sans, fontSize: 18, fontWeight: 'bold', fontStyle: 'italic', color: '#000', verticalAlign: 'bottom', lineHeight: 20},
    g: {fontFamily: sans, fontSize: 17, fontWeight: 'normal', color: '#000', verticalAlign: 'bottom', lineHeight: 20},
    t: {fontFamily: sans, fontSize: 11, fontWeight: 'normal', fontStyle: 'italic', color: '#000', verticalAlign: 'bottom', lineHeight: 10}
};
function panelTitle(text, top) {
    return {text: text, left: 401, top: top, textAlign: 'center', textStyle: {fontWeight: 'normal', rich: titleRich}};
}

option = {
    animation: false,
    backgroundColor: '#fff',
    title: [
        panelTitle('{n|(a) }{it|Observed factors}', 13),
        panelTitle('{n|(b) }{it|Equation-specific latent Markov switching factors}', 386),
        panelTitle('{n|(c) }{it|Equation-specific latent random walk factors}', 754),
        {text: '{b|r}{t|t}', left: 737, top: 158, textStyle: {fontWeight: 'normal', rich: legTitleRich}},
        {text: '{b|S}{t|t}', left: 737, top: 526, textStyle: {fontWeight: 'normal', rich: legTitleRich}},
        {text: '{g|τ}{t|t}', left: 737, top: 891, textStyle: {fontWeight: 'normal', rich: legTitleRich}}
    ],
    legend: [
        legendFor(['rNfci', 'rRec', 'rRf'], 183, -1),
        legendFor(['sL', 'sS', 'sC'], 553, 0.5),
        legendFor(['tL', 'tS', 'tC'], 918, -1)
    ],
    grid: [
        {left: 43, top: 48, width: 680, height: 306, show: true, borderColor: '#333', borderWidth: 1},
        {left: 45, top: 422, width: 675, height: 299, show: true, borderColor: '#333', borderWidth: 1},
        {left: 49, top: 789, width: 667, height: 294, show: true, borderColor: '#333', borderWidth: 1}
    ],
    xAxis: [xAxisFor(0), xAxisFor(1), xAxisFor(2)],
    yAxis: [yAxisFor(0), yAxisFor(1), yAxisFor(2)],
    series: [
        bands(0), bands(1), bands(2),
        line('rNfci', 0, rNfci, GREEN),
        line('rRec', 0, rRec, RED),
        line('rRf', 0, rRf, BLUE),
        line('sL', 1, sL, GREEN),
        line('sS', 1, sS, RED),
        line('sC', 1, sC, BLUE),
        line('tL', 2, tauL, GREEN),
        line('tS', 2, tauS, RED),
        line('tC', 2, tauC, BLUE)
    ]
};
if (option && typeof option === "object") {
    myChart.setOption(option, true);
}
</script>
</body>
</html>
